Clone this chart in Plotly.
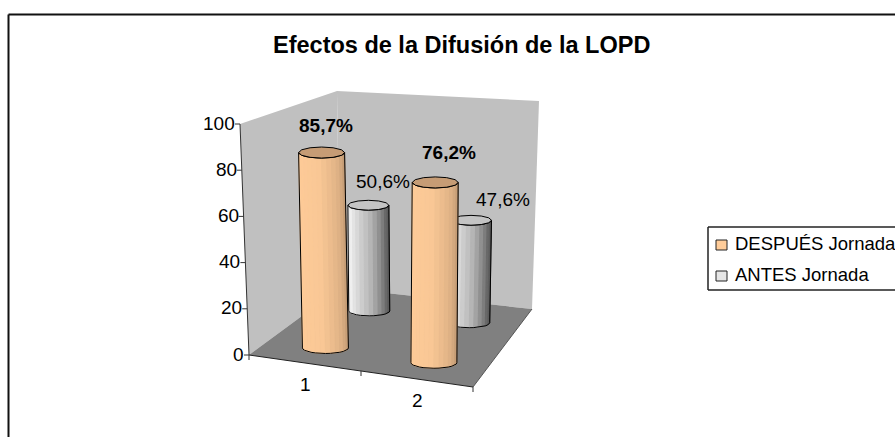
import plotly.graph_objects as go
import numpy as np

categories = ["1", "2"]
series_names = ["DESPUÉS Jornada", "ANTES Jornada"]
despues = [85.7, 76.2]
antes = [50.6, 47.6]
y_ticks = [0, 20, 40, 60, 80, 100]

FONT = "Liberation Sans, Arial, sans-serif"
# projection of the 3D box: (u along categories, v depth, w value share) to the page
FLOOR = dict(a=(249, 355), b=(473, 387), c=(532, 309), d=(340, 288))
ROOF = dict(a=(240, 124), b=(477, 137), c=(539, 101), d=(337, 91))


def bil(q, u, v):
    a, b, c, d = [np.array(q[k], float) for k in "abcd"]
    return a * (1 - u) * (1 - v) + b * u * (1 - v) + c * u * v + d * (1 - u) * v


def proj(u, v, val):
    w = val / 100
    return bil(FLOOR, u, v) * (1 - w) + bil(ROOF, u, v) * w


fig = go.Figure()


def poly(pts, fill, line=None, width=1):
    xs = [p[0] for p in pts] + [pts[0][0]]
    ys = [p[1] for p in pts] + [pts[0][1]]
    fig.add_trace(go.Scatter(x=xs, y=ys, mode="lines", fill="toself", fillcolor=fill,
                             line=dict(color=line or fill, width=width if line else 0),
                             hoverinfo="skip", showlegend=False))


def seg(p, q, color="#000000", width=1):
    fig.add_trace(go.Scatter(x=[p[0], q[0]], y=[p[1], q[1]], mode="lines",
                             line=dict(color=color, width=width), hoverinfo="skip", showlegend=False))


def label(x, y, text, size=19, bold=False, color="#000000"):
    t = f"<b>{text}</b>" if bold else text
    fig.add_annotation(x=x, y=y, text=t, showarrow=False, xanchor="center", yanchor="middle",
                       font=dict(family=FONT, size=size, color=color))


# frame, open on the right and at the bottom of the picture
seg((8.5, 437), (8.5, 14.5), "#111111", 2)
seg((8.5, 14.5), (895, 14.5), "#111111", 2)

# walls and floor
poly([proj(0, 1, 0), proj(1, 1, 0), proj(1, 1, 100), proj(0, 1, 100)], "#C0C0C0")
poly([proj(0, 0, 0), proj(0, 1, 0), proj(0, 1, 100), proj(0, 0, 100)], "#C0C0C0")
poly([proj(0, 0, 0), proj(1, 0, 0), proj(1, 1, 0), proj(0, 1, 0)], "#808080")

# axes
seg(proj(0, 0, 0), proj(0, 0, 100), "#333333")
seg(proj(0, 0, 0), proj(1, 0, 0), "#222222")
seg(proj(1, 0, 0), proj(1, 1, 0), "#555555")
for t in y_ticks:
    p = proj(0, 0, t)
    seg(p, p + np.array([-5, 0]), "#333333")
    fig.add_annotation(x=p[0] - 3, y=p[1] - 1, text=str(t), showarrow=False, xanchor="right", yanchor="middle",
                       font=dict(family=FONT, size=19, color="#000000"))
for u in (0, 0.5, 1):
    p = proj(u, 0, 0)
    seg(p, p + np.array([0, 5]), "#333333")
for i, c in enumerate(categories):
    p = proj(0.25 + 0.5 * i, 0, 0)
    label(p[0], p[1] + 21.5, c)


def lerp_color(stops, t):
    pos = [s[0] for s in stops]
    return "rgb(%d,%d,%d)" % tuple(np.interp(t, pos, [s[1][k] for s in stops]) for k in range(3))


ORANGE = [(0, (255, 204, 153)), (0.45, (250, 200, 150)), (0.75, (225, 180, 135)), (1, (190, 150, 112))]
GREY = [(0, (225, 225, 225)), (0.15, (240, 240, 240)), (0.55, (180, 180, 180)), (0.85, (105, 105, 105)), (1, (85, 85, 85))]


def bar(i, v, val, rx, stops, cap):
    u = 0.26 + 0.5 * i
    b = proj(u, v, 0)
    t = proj(u, v, val)
    ry = rx * 0.24
    n = 14
    th = np.linspace(np.pi, 0, n + 1)
    bx, by = b[0] + rx * np.cos(th), b[1] + ry * np.sin(th)
    tx, ty = t[0] + rx * np.cos(th), t[1] + ry * np.sin(th)
    for k in range(n):
        col = lerp_color(stops, k / (n - 1))
        poly([(bx[k], by[k]), (bx[k + 1], by[k + 1]), (tx[k + 1], ty[k + 1]), (tx[k], ty[k])], col, col, 1)
    xs = list(bx) + [tx[-1]] + list(tx[::-1]) + [bx[0]]
    ys = list(by) + [ty[-1]] + list(ty[::-1]) + [by[0]]
    fig.add_trace(go.Scatter(x=xs, y=ys, mode="lines", line=dict(color="#000000", width=1),
                             hoverinfo="skip", showlegend=False))
    th2 = np.linspace(0, 2 * np.pi, 13)[:-1]
    poly([(t[0] + rx * np.cos(a), t[1] + ry * np.sin(a)) for a in th2], cap, "#000000", 1)
    return t


tops_back = [bar(i, 0.75, antes[i], 20.5, GREY, "#C4C4C4") for i in range(2)]
tops_front = [bar(i, 0.22, despues[i], 23, ORANGE, "#C69C75") for i in range(2)]

# value labels
for t, val, off in zip(tops_front, despues, [(4, -27), (14, -30)]):
    label(t[0] + off[0], t[1] + off[1], f"{val:.1f}%".replace(".", ","), bold=True)
for t, val, off in zip(tops_back, antes, [(15, -24), (32, -21)]):
    label(t[0] + off[0], t[1] + off[1], f"{val:.1f}%".replace(".", ","))

# title
fig.add_annotation(x=461, y=45, text="<b>Efectos de la Difusión de la LOPD</b>", showarrow=False,
                   font=dict(family=FONT, size=23.5, color="#000000"))

# legend
seg((895, 227), (708, 227), "#222222", 1.5)
seg((708, 227), (708, 290), "#222222", 1.5)
seg((708, 290), (895, 290), "#222222", 1.5)
poly([(716, 240), (727, 240), (727, 250), (716, 250)], "#FFCC99", "#222222", 1)
poly([(716, 271), (727, 271), (727, 281), (716, 281)], "#E6E6E6", "#222222", 1)
for name, y in zip(series_names, (243, 274)):
    fig.add_annotation(x=733, y=y, text=name, showarrow=False, xanchor="left", yanchor="middle",
                       font=dict(family=FONT, size=18.5, color="#000000"))

fig.update_layout(width=895, height=437, margin=dict(l=0, r=0, t=0, b=0), autosize=False,
                  paper_bgcolor="white", plot_bgcolor="white", showlegend=False,
                  xaxis=dict(range=[0, 895], visible=False, fixedrange=True),
                  yaxis=dict(range=[437, 0], visible=False, fixedrange=True))
fig.write_html("out.html", config=dict(displayModeBar=False),
               post_script="document.body.style.margin='0';document.documentElement.style.overflow='hidden';")
